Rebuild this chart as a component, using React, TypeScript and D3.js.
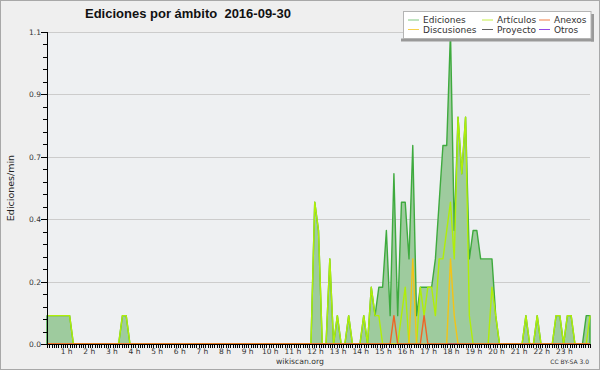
import React from 'react';
import * as d3 from 'd3';

// one value every 10 minutes, 00:00 -> 24:00 (rows = hours)
const ediciones = [
  0.1, 0.1, 0.1, 0.1, 0.1, 0.1,
  0.1, 0, 0, 0, 0, 0,
  0, 0, 0, 0, 0, 0,
  0, 0, 0.1, 0.1, 0, 0,
  0, 0, 0, 0, 0, 0,
  0, 0, 0, 0, 0, 0,
  0, 0, 0, 0, 0, 0,
  0, 0, 0, 0, 0, 0,
  0, 0, 0, 0, 0, 0,
  0, 0, 0, 0, 0, 0,
  0, 0, 0, 0, 0, 0,
  0, 0, 0, 0, 0, 0.5,
  0.4, 0, 0, 0.3, 0, 0.1,
  0, 0, 0.1, 0, 0, 0,
  0.1, 0, 0.2, 0.1, 0.2, 0.2,
  0.4, 0.1, 0.6, 0.1, 0.5, 0.5,
  0.3, 0.7, 0.1, 0.2, 0.2, 0.2,
  0.2, 0.3, 0.5, 0.7, 0.7, 1.1,
  0.4, 0.8, 0.6, 0.8, 0.3, 0.4,
  0.4, 0.3, 0.3, 0.3, 0.3, 0.1,
  0, 0, 0, 0, 0, 0,
  0, 0.1, 0, 0, 0.1, 0,
  0, 0, 0, 0.1, 0.1, 0,
  0.1, 0.1, 0, 0, 0, 0.1,
  0.1,
];

const articulos = [
  0.1, 0.1, 0.1, 0.1, 0.1, 0.1,
  0.1, 0, 0, 0, 0, 0,
  0, 0, 0, 0, 0, 0,
  0, 0, 0.1, 0.1, 0, 0,
  0, 0, 0, 0, 0, 0,
  0, 0, 0, 0, 0, 0,
  0, 0, 0, 0, 0, 0,
  0, 0, 0, 0, 0, 0,
  0, 0, 0, 0, 0, 0,
  0, 0, 0, 0, 0, 0,
  0, 0, 0, 0, 0, 0,
  0, 0, 0, 0, 0, 0.5,
  0.4, 0, 0, 0.3, 0, 0.1,
  0, 0, 0.1, 0, 0, 0,
  0.1, 0, 0.2, 0.1, 0.1, 0,
  0, 0, 0, 0, 0.1, 0.2,
  0, 0, 0, 0.2, 0.1, 0.2,
  0.2, 0.1, 0.3, 0.3, 0.4, 0.5,
  0.3, 0.8, 0.6, 0.8, 0.1, 0,
  0, 0, 0, 0, 0.2, 0.1,
  0, 0, 0, 0, 0, 0,
  0, 0.1, 0, 0, 0.1, 0,
  0, 0, 0, 0.1, 0.1, 0,
  0.1, 0.1, 0, 0, 0, 0,
  0.1,
];

const discusiones = [
  0, 0, 0, 0, 0, 0,
  0, 0, 0, 0, 0, 0,
  0, 0, 0, 0, 0, 0,
  0, 0, 0, 0, 0, 0,
  0, 0, 0, 0, 0, 0,
  0, 0, 0, 0, 0, 0,
  0, 0, 0, 0, 0, 0,
  0, 0, 0, 0, 0, 0,
  0, 0, 0, 0, 0, 0,
  0, 0, 0, 0, 0, 0,
  0, 0, 0, 0, 0, 0,
  0, 0, 0, 0, 0, 0,
  0, 0, 0, 0, 0, 0,
  0, 0, 0, 0, 0, 0,
  0, 0, 0, 0, 0, 0,
  0, 0, 0, 0, 0, 0,
  0, 0.3, 0, 0, 0, 0,
  0, 0, 0, 0, 0, 0.3,
  0.1, 0, 0, 0, 0, 0,
  0, 0, 0, 0, 0, 0,
  0, 0, 0, 0, 0, 0,
  0, 0, 0, 0, 0, 0,
  0, 0, 0, 0, 0, 0,
  0, 0, 0, 0, 0, 0,
  0,
];

const anexos = [
  0, 0, 0, 0, 0, 0,
  0, 0, 0, 0, 0, 0,
  0, 0, 0, 0, 0, 0,
  0, 0, 0, 0, 0, 0,
  0, 0, 0, 0, 0, 0,
  0, 0, 0, 0, 0, 0,
  0, 0, 0, 0, 0, 0,
  0, 0, 0, 0, 0, 0,
  0, 0, 0, 0, 0, 0,
  0, 0, 0, 0, 0, 0,
  0, 0, 0, 0, 0, 0,
  0, 0, 0, 0, 0, 0,
  0, 0, 0, 0, 0, 0,
  0, 0, 0, 0, 0, 0,
  0, 0, 0, 0, 0, 0,
  0, 0, 0.1, 0, 0, 0,
  0, 0, 0, 0, 0.1, 0,
  0, 0, 0, 0, 0, 0,
  0, 0, 0, 0, 0, 0,
  0, 0, 0, 0, 0, 0,
  0, 0, 0, 0, 0, 0,
  0, 0, 0, 0, 0, 0,
  0, 0, 0, 0, 0, 0,
  0, 0, 0, 0, 0, 0,
  0,
];

// Proyecto and Otros had no edits this day
const proyecto = [
  0, 0, 0, 0, 0, 0, 0, 0, 0, 0, 0, 0, 0, 0, 0, 0, 0, 0, 0, 0, 0, 0, 0, 0,
  0, 0, 0, 0, 0, 0, 0, 0, 0, 0, 0, 0, 0, 0, 0, 0, 0, 0, 0, 0, 0, 0, 0, 0,
  0, 0, 0, 0, 0, 0, 0, 0, 0, 0, 0, 0, 0, 0, 0, 0, 0, 0, 0, 0, 0, 0, 0, 0,
  0, 0, 0, 0, 0, 0, 0, 0, 0, 0, 0, 0, 0, 0, 0, 0, 0, 0, 0, 0, 0, 0, 0, 0,
  0, 0, 0, 0, 0, 0, 0, 0, 0, 0, 0, 0, 0, 0, 0, 0, 0, 0, 0, 0, 0, 0, 0, 0,
  0, 0, 0, 0, 0, 0, 0, 0, 0, 0, 0, 0, 0, 0, 0, 0, 0, 0, 0, 0, 0, 0, 0, 0,
  0,
];
const otros = [
  0, 0, 0, 0, 0, 0, 0, 0, 0, 0, 0, 0, 0, 0, 0, 0, 0, 0, 0, 0, 0, 0, 0, 0,
  0, 0, 0, 0, 0, 0, 0, 0, 0, 0, 0, 0, 0, 0, 0, 0, 0, 0, 0, 0, 0, 0, 0, 0,
  0, 0, 0, 0, 0, 0, 0, 0, 0, 0, 0, 0, 0, 0, 0, 0, 0, 0, 0, 0, 0, 0, 0, 0,
  0, 0, 0, 0, 0, 0, 0, 0, 0, 0, 0, 0, 0, 0, 0, 0, 0, 0, 0, 0, 0, 0, 0, 0,
  0, 0, 0, 0, 0, 0, 0, 0, 0, 0, 0, 0, 0, 0, 0, 0, 0, 0, 0, 0, 0, 0, 0, 0,
  0, 0, 0, 0, 0, 0, 0, 0, 0, 0, 0, 0, 0, 0, 0, 0, 0, 0, 0, 0, 0, 0, 0, 0,
  0,
];

const hourLabels = [
  '1 h', '2 h', '3 h', '4 h', '5 h', '6 h', '7 h', '8 h', '9 h', '10 h', '11 h', '12 h',
  '13 h', '14 h', '15 h', '16 h', '17 h', '18 h', '19 h', '20 h', '21 h', '22 h', '23 h',
];
const yTicks = [0, 0.22, 0.44, 0.66, 0.88, 1.1];
const yTickLabels = ['0.0', '0.2', '0.4', '0.7', '0.9', '1.1'];

const W = 600;
const H = 370;
const margin = { top: 32, right: 10, bottom: 26, left: 47 };
const STEP = 10; // minutes per value

const legend = [
  { name: 'Ediciones', color: '#80c880', col: 0, row: 0 },
  { name: 'Artículos', color: '#c4ee48', col: 1, row: 0 },
  { name: 'Anexos', color: '#f07c44', col: 2, row: 0 },
  { name: 'Discusiones', color: '#f6d04a', col: 0, row: 1 },
  { name: 'Proyecto', color: '#606060', col: 1, row: 1 },
  { name: 'Otros', color: '#9448e6', col: 2, row: 1 },
];
const legendCols = [408, 482, 539];

const fontSans = 'DejaVu Sans, sans-serif';

export default function App() {
  const x = d3.scaleLinear().domain([0, 1440]).range([margin.left, W - margin.right]);
  const y = d3.scaleLinear().domain([0, 1.1]).range([H - margin.bottom, margin.top]);
  const x0 = x.range()[0];
  const x1 = x.range()[1];
  const y0 = y.range()[0];
  const y1 = y.range()[1];

  const area = d3
    .area<number>()
    .x((_, i) => x(i * STEP))
    .y0(y0)
    .y1((d) => y(d));
  const line = d3
    .line<number>()
    .x((_, i) => x(i * STEP))
    .y((d) => y(d));

  const xMinor = d3.range(0, 1441, 6);
  const yMinor = d3.range(0, 1.1001, 0.044);

  const lines = [
    { data: proyecto, color: '#555555' },
    { data: otros, color: '#9040e0' },
    { data: articulos, color: '#b0ee08' },
    { data: discusiones, color: '#f2c418' },
    { data: anexos, color: '#f06424' },
  ];

  return (
    <svg width={W} height={H} style={{ position: 'absolute', left: 0, top: 0 }}>
      <rect x={0.5} y={0.5} width={W - 1} height={H - 1} fill="#efefef" stroke="#a8a8a8" />
      <rect x={x0} y={y1} width={x1 - x0} height={y0 - y1} fill="#eef0f2" />

      {/* grid */}
      {yTicks.slice(1).map((t) => (
        <line key={t} x1={x0} x2={x1} y1={Math.round(y(t)) + 0.5} y2={Math.round(y(t)) + 0.5} stroke="#cccccc" />
      ))}

      {/* series */}
      <path d={area(ediciones) || ''} fill="#9ecb9e" stroke="#3eaa3e" strokeWidth={1.4} strokeLinejoin="round" />
      {lines.map((s, i) => (
        <path key={i} d={line(s.data) || ''} fill="none" stroke={s.color} strokeWidth={1.4} strokeLinejoin="round" />
      ))}

      {/* y axis */}
      <line x1={x0 + 0.5} x2={x0 + 0.5} y1={y1} y2={y0} stroke="#000" />
      {yMinor.map((t, i) => (
        <line key={i} x1={x0 - 4} x2={x0} y1={Math.round(y(t)) + 0.5} y2={Math.round(y(t)) + 0.5} stroke="#000" />
      ))}
      {yTicks.map((t, i) => (
        <g key={t}>
          <line x1={x0 - 6} x2={x0} y1={Math.round(y(t)) + 0.5} y2={Math.round(y(t)) + 0.5} stroke="#000" />
          <text x={x0 - 6} y={y(t) + 3} textAnchor="end" fontFamily={fontSans} fontSize={7.5} fill="#333">
            {yTickLabels[i]}
          </text>
        </g>
      ))}

      {/* x axis */}
      <line x1={x0} x2={x1} y1={y0 + 0.5} y2={y0 + 0.5} stroke="#000" />
      {xMinor.map((t) => (
        <line key={t} x1={Math.round(x(t)) + 0.5} x2={Math.round(x(t)) + 0.5} y1={y0} y2={y0 + 4} stroke="#000" />
      ))}
      {hourLabels.map((lab, i) => (
        <text key={lab} x={x((i + 1) * 60) - 3} y={y0 + 10} textAnchor="middle" fontFamily={fontSans} fontSize={7.5} fill="#333">
          {lab}
        </text>
      ))}

      {/* titles */}
      <text x={85} y={17.5} fontFamily="Liberation Sans, Arial, sans-serif" fontWeight="bold" fontSize={13} fill="#111" xmlSpace="preserve">
        {'Ediciones por ámbito  2016-09-30'}
      </text>
      <text transform={`translate(14,${(y0 + y1) / 2}) rotate(-90)`} textAnchor="middle" fontFamily={fontSans} fontSize={9.5} fill="#222">
        Ediciones/min
      </text>
      <text x={W / 2} y={364} textAnchor="middle" fontFamily={fontSans} fontSize={7.7} fill="#333">
        wikiscan.org
      </text>
      <text x={589} y={364} textAnchor="end" fontFamily={fontSans} fontSize={6} fill="#333">
        CC BY-SA 3.0
      </text>

      {/* legend */}
      <rect x={401} y={38.5} width={193} height={3} fill="#999" />
      <rect x={591} y={14} width={3} height={27.5} fill="#999" />
      <rect x={403.5} y={11.5} width={187.5} height={27} fill="#fff" stroke="#b4b4b4" />
      {legend.map((l) => {
        const lx = legendCols[l.col];
        const ly = 20 + l.row * 9.5;
        return (
          <g key={l.name}>
            <line x1={lx} x2={lx + 11} y1={ly} y2={ly} stroke={l.color} strokeWidth={1} />
            <text x={lx + 15} y={ly + 3.2} fontFamily={fontSans} fontSize={9} fill="#333">
              {l.name}
            </text>
          </g>
        );
      })}
    </svg>
  );
}
